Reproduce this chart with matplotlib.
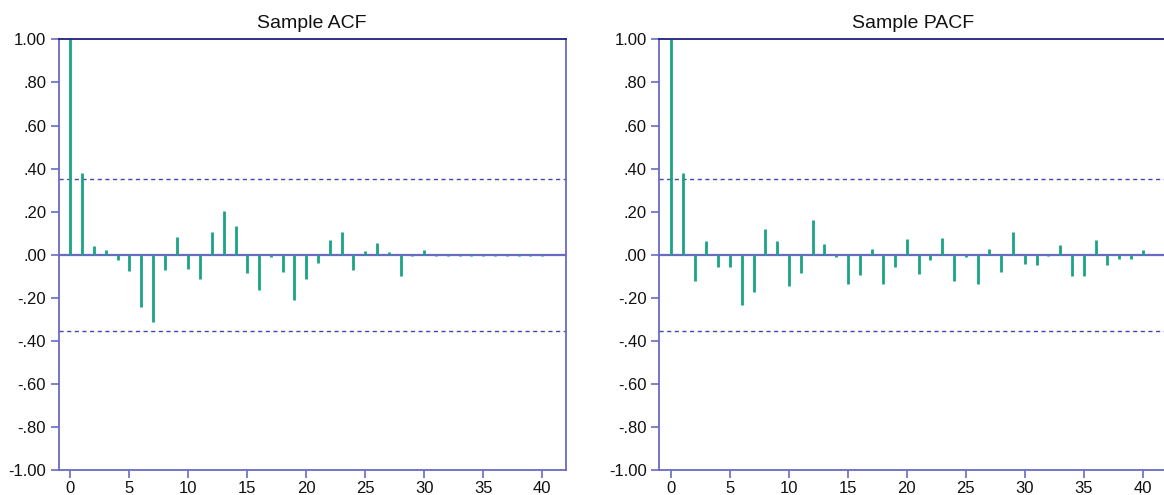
import numpy as np
import matplotlib
matplotlib.use('Agg')
import matplotlib.pyplot as plt

plt.rcParams['font.family'] = ['Liberation Sans', 'DejaVu Sans']

# 数据
lags = np.arange(0, 41)
acf = [1.00, 0.378, 0.042, 0.025, -0.023, -0.073, -0.241, -0.312, -0.068, 0.085,
       -0.063, -0.111, 0.107, 0.204, 0.133, -0.085, -0.165, -0.009, -0.079, -0.209,
       -0.110, -0.036, 0.068, 0.107, -0.068, 0.019, 0.057, 0.014, -0.096, -0.003,
       0.025, -0.003, -0.003, -0.003, -0.003, -0.003, -0.003, -0.003, -0.003, -0.003,
       -0.003]
pacf = [1.00, 0.378, -0.121, 0.063, -0.056, -0.056, -0.230, -0.170, 0.122, 0.063,
        -0.142, -0.083, 0.161, 0.051, -0.008, -0.133, -0.094, 0.029, -0.133, -0.056,
        0.073, -0.090, -0.023, 0.079, -0.122, -0.009, -0.133, 0.029, -0.079, 0.107,
        -0.040, -0.046, -0.005, 0.046, -0.100, -0.096, 0.068, -0.046, -0.019, -0.019,
        0.025]
band = 0.353
titles = ['Sample ACF', 'Sample PACF']
yticks = [1.0, 0.8, 0.6, 0.4, 0.2, 0.0, -0.2, -0.4, -0.6, -0.8, -1.0]
ylabels = ['1.00', '.80', '.60', '.40', '.20', '.00', '-.20', '-.40', '-.60', '-.80', '-1.00']

bar_c = '#1ba384'
spine_dark = '#20207e'
spine_light = '#6a6ac4'

fig = plt.figure(figsize=(11.64, 4.95), dpi=100)
positions = [[0.0504, 0.0495, 0.4356, 0.871], [0.5664, 0.0495, 0.4356, 0.871]]

for pos, vals, title in zip(positions, [acf, pacf], titles):
    ax = fig.add_axes(pos)
    ax.axhline(0, color=spine_light, lw=1.6, zorder=1)
    ax.axhline(band, color='#4646ae', lw=1.0, ls=(0, (3, 2.5)), zorder=1)
    ax.axhline(-band, color='#4646ae', lw=1.0, ls=(0, (3, 2.5)), zorder=1)
    ax.vlines(lags, 0, vals, color=bar_c, lw=2.0, zorder=2)
    ax.set_xlim(-1, 42)
    ax.set_ylim(-1, 1)
    ax.set_yticks(yticks)
    ax.set_yticklabels(ylabels)
    ax.set_xticks(range(0, 41, 5))
    ax.tick_params(axis='both', direction='out', length=6, width=1.2,
                   color=spine_light, labelsize=12, labelcolor='#111111')
    ax.tick_params(axis='x', pad=1.5)
    ax.tick_params(axis='y', pad=3)
    ax.spines['top'].set_color(spine_dark)
    ax.spines['right'].set_color(spine_light)
    ax.spines['left'].set_color(spine_light)
    ax.spines['bottom'].set_color(spine_light)
    for s in ax.spines.values():
        s.set_linewidth(1.3)
    ax.set_title(title, fontsize=14, pad=8, color='#111111')

fig.savefig('out.png', dpi=100)
